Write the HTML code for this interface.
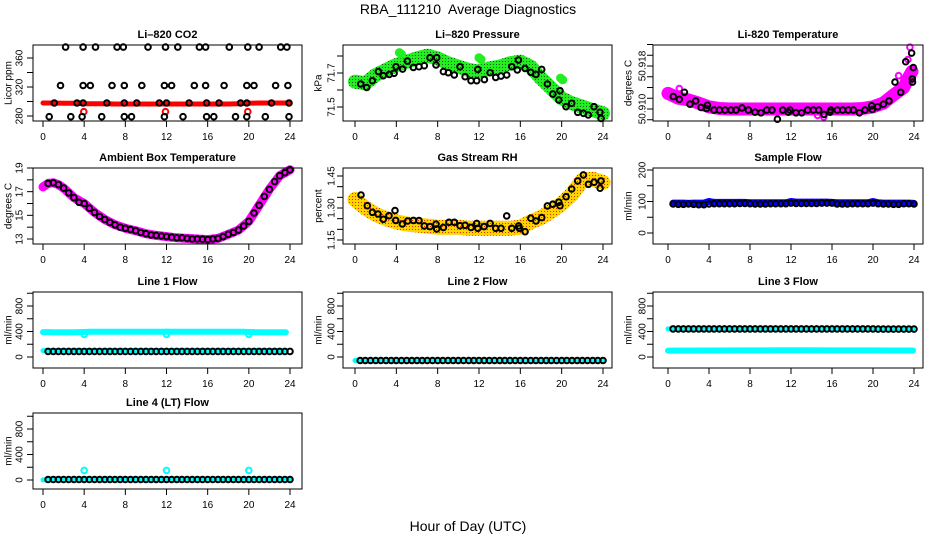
<!DOCTYPE html>
<html><head><meta charset="utf-8">
<style>
html,body{margin:0;padding:0;background:#fff;}
svg{display:block;font-family:"Liberation Sans",sans-serif;}
</style></head>
<body>
<svg id="fig" width="936" height="540" viewBox="0 0 936 540">
<text x="468" y="14" text-anchor="middle" font-size="14">RBA_111210&#160; Average Diagnostics</text>
<text x="468" y="531" text-anchor="middle" font-size="14">Hour of Day (UTC)</text>
</svg>
<script>
// ---------- data ----------
const xTicks = [0,4,8,12,16,20,24];
const H48 = [0.5,1,1.5,2,2.5,3,3.5,4,4.5,5,5.5,6,6.5,7,7.5,8,8.5,9,9.5,10,10.5,11,11.5,12,12.5,13,13.5,14,14.5,15,15.5,16,16.5,17,17.5,18,18.5,19,19.5,20,20.5,21,21.5,22,22.5,23,23.5,24];
const H25 = [0,1,2,3,4,5,6,7,8,9,10,11,12,13,14,15,16,17,18,19,20,21,22,23,24];

// CO2
const co2BandVals = [298,298,297.5,297.5,297,297,297,296.5,296.5,296.5,296.5,296.5,296.5,296.5,296.5,296.5,296.5,296.5,296.5,297,297.5,298,298,298,298];
const co2RedOutT = [3.96,11.9,19.9];
const co2RedOutV = [286,286,286];
const co2BlackT = [2.2,3.9,5.1,7.2,7.8,10.2,11.9,13.1,15.2,15.8,18.1,19.9,21.0,23.1,23.7, 1.7,3.9,4.6,6.7,7.9,9.6,11.8,12.5,14.7,15.8,17.6,19.8,20.5,22.6,23.8, 1.1,3.3,3.9,6.2,7.9,9.1,11.3,12.0,14.2,15.9,17.1,19.2,19.8,22.2,23.9, 0.6,2.7,3.8,5.7,7.9,8.6,11.8,13.6,15.9,16.6,18.7,19.8,21.6,23.9];
const co2BlackV = [375,375,375,375,375,375,375,375,375,375,375,375,375,375,375, 322,322,322,322,322,322,322,322,322,322,322,322,322,322,322, 298,298,298,298,298,298,298,298,298,298,298,298,298,298,298, 279,279,279,279,279,279,279,279,279,279,279,279,279,279];

// Pressure
const presBandT = [0,1,2,3,4,5,6,7,8,9,10,11,12,13,14,15,16,17,18,19,20,21,22,23,24];
const presBandV = [71.649,71.639,71.688,71.718,71.747,71.767,71.786,71.802,71.786,71.757,71.737,71.718,71.708,71.727,71.737,71.757,71.767,71.737,71.669,71.610,71.551,71.522,71.502,71.482,71.463];
const presOutT = [4.3,4.5,12.0,12.2,19.9,20.1];
const presOutV = [71.82,71.81,71.79,71.78,71.67,71.66];
const presBlackT = [0.55,1.13,1.68,2.26,2.74,3.32,3.78,3.97,4.61,5.07,5.65,6.19,6.71,7.26,7.91,7.84,8.55,9.03,9.61,10.16,10.65,11.23,11.78,11.88,12.52,13.07,13.62,14.13,14.68,15.17,15.81,15.71,16.45,17.0,17.52,18.07,18.62,19.14,19.72,19.84,20.42,20.97,21.55,22.1,22.58,23.13,23.71,23.81];
const presBlackV = [71.635,71.615,71.655,71.708,71.684,71.692,71.698,71.737,71.723,71.770,71.733,71.737,71.743,71.790,71.790,71.747,71.708,71.702,71.688,71.737,71.678,71.655,71.655,71.721,71.661,71.702,71.674,71.682,71.688,71.737,71.776,71.718,71.727,71.704,71.692,71.721,71.635,71.576,71.541,71.596,71.502,71.522,71.469,71.463,71.453,71.502,71.469,71.433];

// Li-820 temperature
const tempBandT = [0,1,2,3,4,5,6,7,8,9,10,11,12,13,14,15,16,17,18,19,20,21,22,23,23.5,23.8];
const tempBandV = [50.9129,50.9120,50.9117,50.9111,50.9104,50.9101,50.9100,50.9100,50.9100,50.9100,50.9100,50.9100,50.9100,50.9100,50.9100,50.9100,50.9100,50.9100,50.9100,50.9101,50.9104,50.9111,50.9126,50.9140,50.9160,50.9170];
const tempOutT = [1.1,0.4,23.6,23.4,22.5,23.0,15.2,14.6];
const tempOutV = [50.9138,50.9130,50.9215,50.9192,50.9162,50.9152,50.9085,50.9088];
const tempBlackT = [0.52,1.1,1.6,2.15,2.7,3.22,3.77,3.84,4.49,5.01,5.56,6.15,6.63,7.22,7.84,8.49,9.07,9.63,10.15,10.67,11.19,11.74,11.9,12.49,13.04,13.63,14.18,14.7,15.22,15.8,15.87,16.52,17.04,17.59,18.08,18.67,19.22,19.87,19.93,20.46,21.01,21.56,22.15,22.7,23.19,23.77,23.93,23.83,23.85];
const tempBlackV = [50.9123,50.9118,50.9131,50.9109,50.9115,50.9103,50.9101,50.9107,50.9098,50.9098,50.9098,50.9098,50.9098,50.9102,50.9098,50.9094,50.9093,50.9098,50.9098,50.9081,50.9098,50.9094,50.9098,50.9093,50.9093,50.9098,50.9098,50.9098,50.9090,50.9094,50.9098,50.9098,50.9098,50.9098,50.9098,50.9093,50.9098,50.9106,50.9099,50.9104,50.9109,50.9115,50.9150,50.9131,50.9188,50.9204,50.9177,50.9156,50.9150];

// Ambient box temperature
const ambBandT = [0,0.5,1,1.5,2,3,4,5,6,7,8,9,10,11,12,13,14,15,16,17,18,19,20,21,22,23,24];
const ambBandV = [17.4,17.7,17.75,17.6,17.3,16.5,16.0,15.25,14.65,14.2,13.9,13.7,13.45,13.3,13.2,13.1,13.05,13.0,12.95,13.05,13.4,13.75,14.5,15.85,17.2,18.35,18.85];
const ambBlackV = [17.7,17.75,17.6,17.3,16.9,16.5,16.1,16.0,15.6,15.25,14.9,14.65,14.4,14.2,14.0,13.9,13.8,13.7,13.55,13.45,13.35,13.3,13.25,13.2,13.15,13.1,13.1,13.05,13.0,13.0,12.98,12.95,13.0,13.05,13.2,13.4,13.55,13.75,14.1,14.5,15.2,15.85,16.6,17.2,17.85,18.35,18.6,18.85];

// Gas stream RH
const rhBandT = [0,1,2,3,4,5,6,7,8,9,10,11,12,13,14,15,16,17,18,19,20,21,22,23,24];
const rhBandV = [1.34,1.30,1.27,1.25,1.235,1.225,1.22,1.215,1.21,1.21,1.21,1.205,1.205,1.205,1.205,1.205,1.21,1.235,1.255,1.285,1.32,1.365,1.43,1.435,1.42];
const rhBlackT = [0.58,1.19,1.68,2.23,2.74,3.29,3.87,3.94,4.58,5.1,5.65,6.19,6.71,7.26,7.84,7.91,8.55,9.10,9.61,10.16,10.65,11.23,11.78,11.88,12.49,13.07,13.62,14.13,14.68,15.17,15.84,15.91,16.46,17.01,17.52,18.07,18.62,19.14,19.72,19.84,20.43,20.97,21.55,22.1,22.59,23.14,23.72,23.81];
const rhBlackV = [1.361,1.311,1.280,1.272,1.247,1.264,1.288,1.242,1.225,1.239,1.242,1.241,1.216,1.213,1.224,1.202,1.209,1.233,1.233,1.217,1.219,1.209,1.228,1.205,1.213,1.228,1.205,1.205,1.263,1.205,1.216,1.205,1.189,1.252,1.239,1.255,1.310,1.318,1.327,1.311,1.353,1.389,1.427,1.455,1.411,1.421,1.393,1.427];

// Sample flow
const sfBandV = [95,95,95,94,95,95,95,100,97,97,97,97,97,97,97,96,96,96,96,96,96,96,96,100,98,98,98,98,98,98,98,97,96,96,96,96,96,96,96,100,96,95,95,95,95,95,95,94];
const sfBlackV = [92,91,91,92,91,90,90,92,93,93,93,93,93,94,94,93,92,92,92,93,93,93,93,95,94,94,94,94,94,95,95,95,92,92,92,93,93,93,93,95,93,92,92,91,91,93,93,92];

// Line 1 flow
const l1UpperV = [390,390,388,388,388,388,388,392,395,395,395,395,395,395,395,395,395,395,395,395,395,395,395,398,395,395,395,395,395,395,395,395,395,395,395,395,395,395,395,392,390,388,388,388,388,388,388];
const l1UpperT = [0,0.5,1,1.5,2,2.5,3,4,4.5,5,5.5,6,6.5,7,7.5,8,8.5,9,9.5,10,10.5,11,11.5,12,12.5,13,13.5,14,14.5,15,15.5,16,16.5,17,17.5,18,18.5,19,19.5,20,20.5,21,21.5,22,22.5,23,23.6];
const l1DipT = [4.0,12.0,20.0];
const l1DipV = [355,355,355];
const l1LowerT = [0,4,8,12,16,20,23.5];
const l1LowerV = [100,102,102,102,102,102,100];
const l1BlackV = [88,88,88,88,88,88,88,88,88,88,88,88,88,88,88,88,88,88,88,88,88,88,88,88,88,88,88,88,88,88,88,88,88,88,88,88,88,88,88,88,88,88,88,88,88,88,88,88];

// Line 2 flow
const l2CyanT = [0,24];
const l2CyanV = [-55,-55];
const l2BlackV = [-55,-55,-55,-55,-55,-55,-55,-55,-55,-55,-55,-55,-55,-55,-55,-55,-55,-55,-55,-55,-55,-55,-55,-55,-55,-55,-55,-55,-55,-55,-55,-55,-55,-55,-55,-55,-55,-55,-55,-55,-55,-55,-55,-55,-55,-55,-55,-55];

// Line 3 flow
const l3CyanHiT = [0,4,8,12,16,20,23.9];
const l3CyanHiV = [440,440,440,440,440,440,438];
const l3LowT = [0,4,8,12,16,20,23.9];
const l3LowV = [100,102,104,106,104,104,102];
const l3BlackV = [440,440,440,440,440,440,440,440,440,440,440,440,440,440,440,440,440,440,440,440,440,440,440,440,440,440,440,440,440,440,440,440,440,440,440,440,440,440,440,440,438,438,438,438,438,438,438,438];

// Line 4 flow
const l4CyanT = [0,24];
const l4CyanV = [2,2];
const l4OutT = [4.0,12.0,20.0];
const l4OutV = [150,150,150];
const l4BlackV = [8,8,8,8,8,8,8,8,8,8,8,8,8,8,8,8,8,8,8,8,8,8,8,8,8,8,8,8,8,8,8,8,8,8,8,8,8,8,8,8,8,8,8,8,8,8,8,8];

// ---------- drawing ----------
const NS = 'http://www.w3.org/2000/svg';
const svg = document.getElementById('fig');
const defs = document.createElementNS(NS,'defs');
defs.innerHTML = '<pattern id="rhpat" width="3" height="3" patternUnits="userSpaceOnUse"><rect width="3" height="3" fill="#ffd400"/><rect x="1" y="1" width="1" height="1" fill="#e03000"/></pattern>'+
 '<pattern id="grpat" width="3" height="3" patternUnits="userSpaceOnUse"><rect width="3" height="3" fill="#22ee22"/><rect x="1" y="1" width="1" height="1" fill="#0a5a0a"/></pattern>';
svg.appendChild(defs);

const cols = [{l:33,r:302,x0:43,x24:290,tl:19,yl:8},{l:343,r:612,x0:355,x24:603,tl:331,yl:318},{l:653,r:923,x0:668,x24:914,tl:642,yl:628}];
const rows = [{t:45,b:121},{t:168,b:244},{t:292,b:368},{t:413,b:489}];

function mk(tag, attrs, parent){
  const e = document.createElementNS(NS, tag);
  for (const k in attrs) e.setAttribute(k, attrs[k]);
  (parent||svg).appendChild(e);
  return e;
}

function panel(cfg){
  const c = cols[cfg.col], r = rows[cfg.row];
  const g = mk('g',{});
  
  
  const xs = t => c.x0 + t*(c.x24-c.x0)/24;
  const ys = v => cfg.py1 + (v-cfg.v1)*(cfg.py2-cfg.py1)/(cfg.v2-cfg.v1);
  cfg.series.forEach(s=>{
    const sg = mk('g',{}, g);
    
    
    if (s.type==='band'){
      const pts = s.t.map((t,i)=>xs(t).toFixed(1)+','+ys(s.v[i]).toFixed(1)).join(' ');
      const pl = mk('polyline',{points:pts, fill:'none', stroke:s.color, 'stroke-width':s.w, 'stroke-linejoin':'round','stroke-linecap':'round'}, sg);
      
      
    } else {
      s.t.forEach((t,i)=>{
        const ci = mk('circle',{cx:xs(t).toFixed(1), cy:ys(s.v[i]).toFixed(1), r:s.r||2.8, fill:s.fill||'none', stroke:s.color, 'stroke-width':s.sw||2}, sg);
        
        
      });
    }
  });
  const box = mk('rect',{x:c.l, y:r.t, width:c.r-c.l, height:r.b-r.t, fill:'none', stroke:'#000','stroke-width':1}, g);
  
  
  const xa = mk('g',{}, g);
  
  
  xTicks.forEach(t=>{
    mk('line',{x1:xs(t),x2:xs(t),y1:r.b,y2:r.b+6,stroke:'#000'}, xa);
    const tx = mk('text',{x:xs(t), y:r.b+19, 'text-anchor':'middle','font-size':10}, xa);
    tx.textContent = t;
    
    
  });
  const ya = mk('g',{}, g);
  
  
  cfg.yTicks.forEach(v=>{
    mk('line',{x1:c.l-6,x2:c.l,y1:ys(v),y2:ys(v),stroke:'#000'}, ya);
  });
  cfg.yLabels.forEach((lab,i)=>{
    const y = ys(cfg.yLabelVals[i]);
    const tx = mk('text',{x:c.tl, y:y, 'text-anchor':'middle','font-size':10, transform:'rotate(-90 '+(c.tl)+' '+y+')', dy:'0.35em'}, ya);
    tx.textContent = lab;
    
    
  });
  const yt = mk('text',{x:c.yl, y:(r.t+r.b)/2, 'text-anchor':'middle','font-size':10, transform:'rotate(-90 '+c.yl+' '+(r.t+r.b)/2+')', dy:'0.35em'}, g);
  yt.textContent = cfg.ylab;
  
  
  const tt = mk('text',{x:(c.l+c.r)/2, y:r.t-7, 'text-anchor':'middle','font-size':11,'font-weight':'bold'}, g);
  tt.textContent = cfg.title;
  
  
}

const flowTicks = [0,200,400,600,800,1000];

panel({name:'co2-panel', col:0,row:0,title:'Li\u2013820 CO2', ylab:'Licor ppm', v1:280,py1:116,v2:360,py2:58,
  yTicks:[280,300,320,340,360], yLabels:['280','320','360'], yLabelVals:[280,320,360],
  series:[
    {name:'co2-raw', type:'band', t:H25, v:co2BandVals, color:'#ff0000', w:5},
    {name:'co2-raw-outliers', type:'pts', t:co2RedOutT, v:co2RedOutV, color:'#ff0000'},
    {name:'co2-average', type:'pts', t:co2BlackT, v:co2BlackV, color:'#000'}
  ]});
panel({name:'pressure-panel', col:1,row:0,title:'Li\u2013820 Pressure', ylab:'kPa', v1:71.5,py1:107,v2:71.7,py2:73,
  yTicks:[71.5,71.6,71.7,71.8], yLabels:['71.5','71.7'], yLabelVals:[71.5,71.7],
  series:[
    {name:'pressure-raw', type:'band', t:presBandT, v:presBandV, color:'url(#grpat)', w:14},
    {name:'pressure-raw-outliers', type:'pts', t:presOutT, v:presOutV, color:'#22ee22', fill:'#22ee22', r:3.5},
    {name:'pressure-average', type:'pts', t:presBlackT, v:presBlackV, color:'#000'}
  ]});
panel({name:'li820-temperature-panel', col:2,row:0,title:'Li-820 Temperature', ylab:'degrees C', v1:50.910,py1:109,v2:50.918,py2:66,
  yTicks:[50.908,50.910,50.912,50.914,50.916,50.918,50.920,50.922], yLabels:['50.910','50.918'], yLabelVals:[50.910,50.918],
  series:[
    {name:'temperature-raw', type:'band', t:tempBandT, v:tempBandV, color:'#ff00ff', w:13},
    {name:'temperature-raw-outliers', type:'pts', t:tempOutT, v:tempOutV, color:'#ff00ff'},
    {name:'temperature-average', type:'pts', t:tempBlackT, v:tempBlackV, color:'#000'}
  ]});
panel({name:'ambient-temperature-panel', col:0,row:1,title:'Ambient Box Temperature', ylab:'degrees C', v1:13,py1:239,v2:19,py2:168,
  yTicks:[13,14,15,16,17,18,19], yLabels:['13','15','17','19'], yLabelVals:[13,15,17,19],
  series:[
    {name:'ambient-raw', type:'band', t:ambBandT, v:ambBandV, color:'#ff00ff', w:9},
    {name:'ambient-average', type:'pts', t:H48, v:ambBlackV, color:'#000'}
  ]});
panel({name:'gas-rh-panel', col:1,row:1,title:'Gas Stream RH', ylab:'percent', v1:1.15,py1:240,v2:1.45,py2:176,
  yTicks:[1.15,1.20,1.25,1.30,1.35,1.40,1.45], yLabels:['1.15','1.30','1.45'], yLabelVals:[1.15,1.30,1.45],
  series:[
    {name:'rh-raw', type:'band', t:rhBandT, v:rhBandV, color:'url(#rhpat)', w:15},
    {name:'rh-average', type:'pts', t:rhBlackT, v:rhBlackV, color:'#000'}
  ]});
panel({name:'sample-flow-panel', col:2,row:1,title:'Sample Flow', ylab:'ml/min', v1:0,py1:233,v2:200,py2:170,
  yTicks:[0,50,100,150,200], yLabels:['0','100','200'], yLabelVals:[0,100,200],
  series:[
    {name:'sample-flow-raw', type:'band', t:H48, v:sfBandV, color:'#0000ff', w:7},
    {name:'sample-flow-average', type:'pts', t:H48, v:sfBlackV, color:'#000'}
  ]});
panel({name:'line1-flow-panel', col:0,row:2,title:'Line 1 Flow', ylab:'ml/min', v1:0,py1:357,v2:800,py2:306,
  yTicks:flowTicks, yLabels:['0','400','800'], yLabelVals:[0,400,800],
  series:[
    {name:'line1-upper-raw', type:'band', t:l1UpperT, v:l1UpperV, color:'#00ffff', w:6},
    {name:'line1-dips', type:'pts', t:l1DipT, v:l1DipV, color:'#00ffff'},
    {name:'line1-lower-raw', type:'band', t:l1LowerT, v:l1LowerV, color:'#00ffff', w:5},
    {name:'line1-average', type:'pts', t:H48, v:l1BlackV, color:'#000'}
  ]});
panel({name:'line2-flow-panel', col:1,row:2,title:'Line 2 Flow', ylab:'ml/min', v1:0,py1:357,v2:800,py2:306,
  yTicks:flowTicks, yLabels:['0','400','800'], yLabelVals:[0,400,800],
  series:[
    {name:'line2-raw', type:'band', t:l2CyanT, v:l2CyanV, color:'#00ffff', w:5},
    {name:'line2-average', type:'pts', t:H48, v:l2BlackV, color:'#000'}
  ]});
panel({name:'line3-flow-panel', col:2,row:2,title:'Line 3 Flow', ylab:'ml/min', v1:0,py1:357,v2:800,py2:306,
  yTicks:flowTicks, yLabels:['0','400','800'], yLabelVals:[0,400,800],
  series:[
    {name:'line3-upper-raw', type:'band', t:l3CyanHiT, v:l3CyanHiV, color:'#00ffff', w:5},
    {name:'line3-lower-raw', type:'band', t:l3LowT, v:l3LowV, color:'#00ffff', w:6},
    {name:'line3-average', type:'pts', t:H48, v:l3BlackV, color:'#000'}
  ]});
panel({name:'line4-flow-panel', col:0,row:3,title:'Line 4 (LT) Flow', ylab:'ml/min', v1:0,py1:480,v2:800,py2:429,
  yTicks:flowTicks, yLabels:['0','400','800'], yLabelVals:[0,400,800],
  series:[
    {name:'line4-raw', type:'band', t:l4CyanT, v:l4CyanV, color:'#00ffff', w:5},
    {name:'line4-outliers', type:'pts', t:l4OutT, v:l4OutV, color:'#00ffff'},
    {name:'line4-average', type:'pts', t:H48, v:l4BlackV, color:'#000'}
  ]});
</script>
</body></html>
